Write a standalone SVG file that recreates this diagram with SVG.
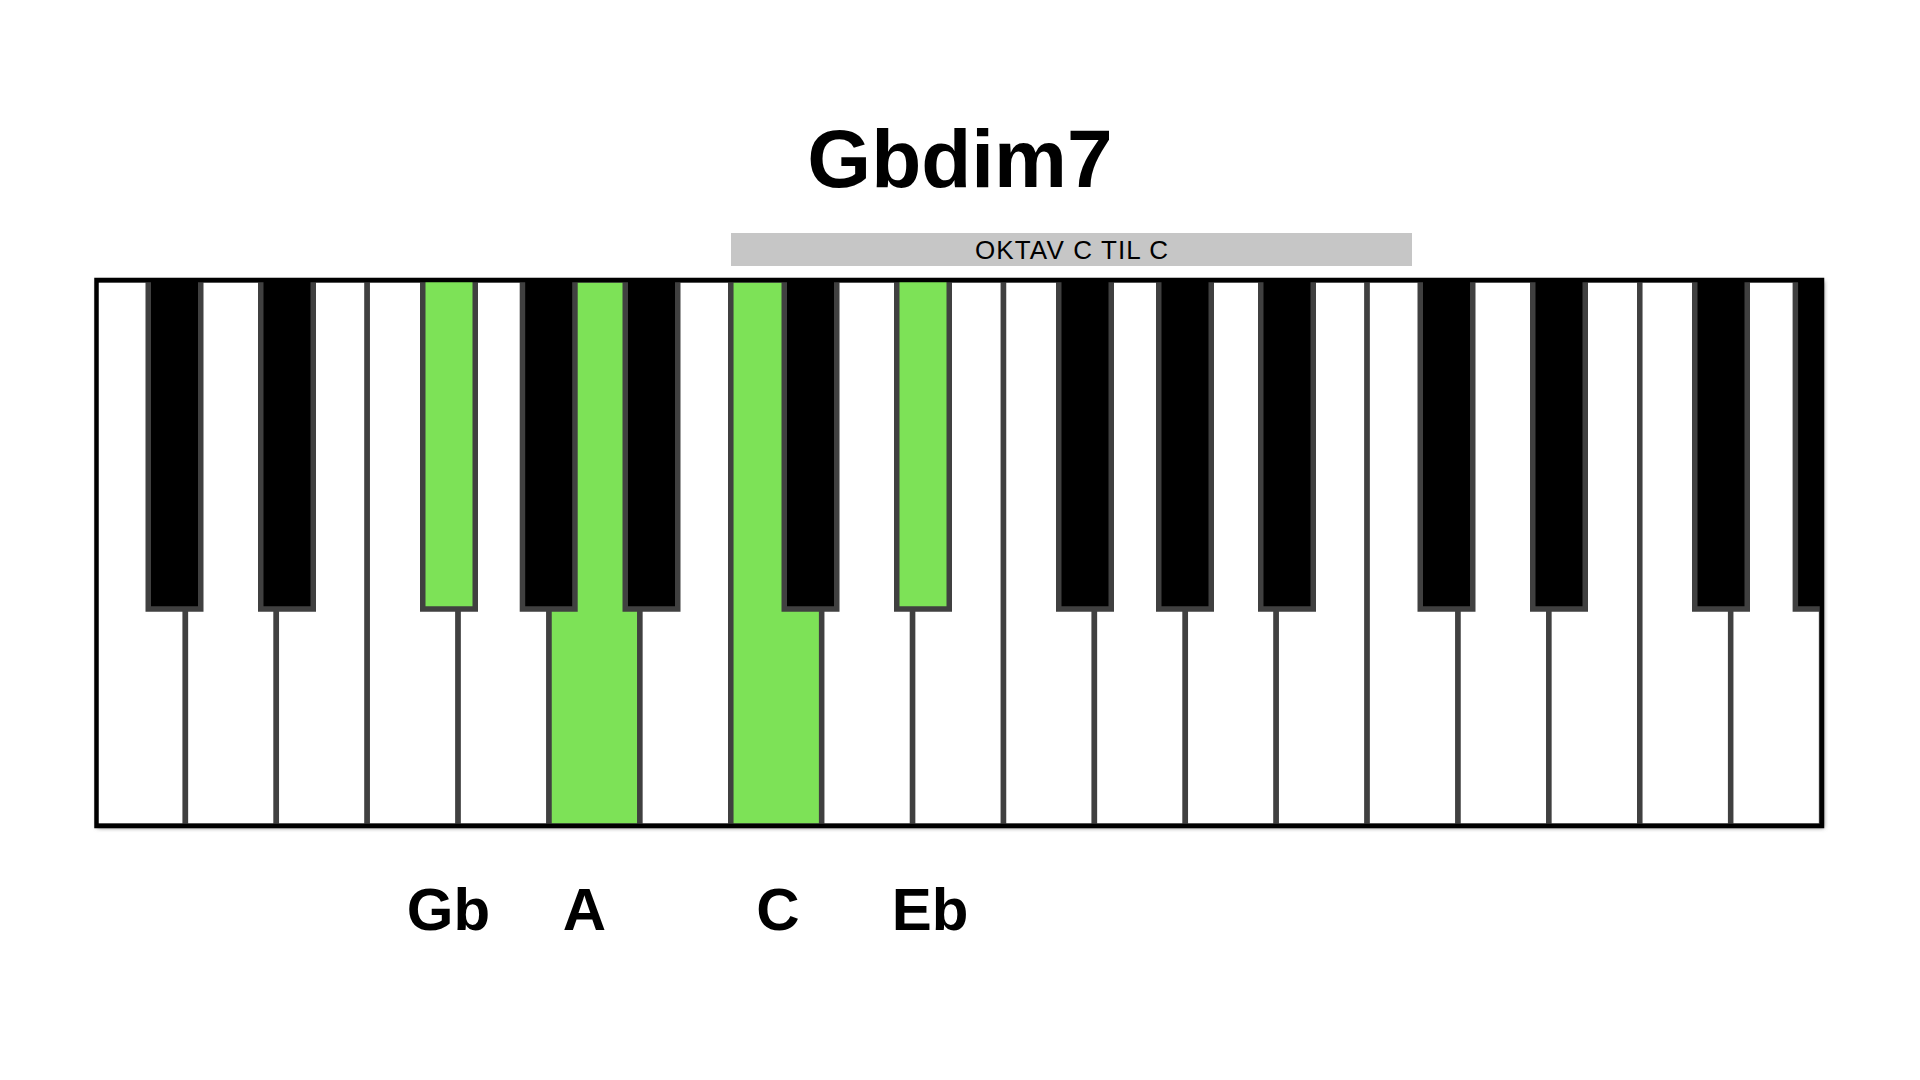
<svg xmlns="http://www.w3.org/2000/svg" width="1920" height="1080" viewBox="0 0 1920 1080">
  <style>
    .wk { fill: #ffffff; stroke: #404040; stroke-width: 5.5; }
    .bk { fill: #000000; stroke: #404040; stroke-width: 5.5; }
    .on { fill: #7de257; }
    .title { font-family: "Liberation Sans", Arial, sans-serif; font-weight: bold; font-size: 82px; fill: #000; text-anchor: middle; }
    .sub { font-family: "Liberation Sans", Arial, sans-serif; font-size: 26px; fill: #000; text-anchor: middle; }
    .note { font-family: "Liberation Sans", Arial, sans-serif; font-weight: bold; font-size: 60px; fill: #000; text-anchor: middle; }
  </style>
  <defs>
    <clipPath id="kbclip">
      <rect x="96.5" y="280" width="1725.5" height="546"/>
    </clipPath>
    <filter id="shadow" x="-5%" y="-5%" width="110%" height="110%">
      <feGaussianBlur stdDeviation="2"/>
    </filter>
  </defs>
  <rect width="1920" height="1080" fill="#ffffff"/>

  <g id="title"><text class="title" x="960" y="187">Gbdim7</text></g>

  <g id="octave-bar">
    <rect x="731" y="233" width="681" height="33" fill="#c6c6c6"/>
    <text class="sub" x="1071.5" y="258.5" textLength="193" lengthAdjust="spacing">OKTAV C TIL C</text>
  </g>

  <g id="keyboard">
    <rect x="97" y="281" width="1727" height="547" fill="#7a7a7a" filter="url(#shadow)"/>
    <g clip-path="url(#kbclip)">
      <g id="white-keys">
        <g id="w-C1"><rect class="wk" x="94.5" y="280" width="90.9" height="546"/></g>
        <g id="w-D1"><rect class="wk" x="185.4" y="280" width="90.9" height="546"/></g>
        <g id="w-E1"><rect class="wk" x="276.3" y="280" width="90.9" height="546"/></g>
        <g id="w-F1"><rect class="wk" x="367.2" y="280" width="90.9" height="546"/></g>
        <g id="w-G1"><rect class="wk" x="458.1" y="280" width="90.9" height="546"/></g>
        <g id="w-A1"><rect class="wk on" x="549" y="280" width="90.9" height="546"/></g>
        <g id="w-B1"><rect class="wk" x="639.9" y="280" width="90.9" height="546"/></g>
        <g id="w-C2"><rect class="wk on" x="730.8" y="280" width="90.9" height="546"/></g>
        <g id="w-D2"><rect class="wk" x="821.7" y="280" width="90.9" height="546"/></g>
        <g id="w-E2"><rect class="wk" x="912.6" y="280" width="90.9" height="546"/></g>
        <g id="w-F2"><rect class="wk" x="1003.5" y="280" width="90.9" height="546"/></g>
        <g id="w-G2"><rect class="wk" x="1094.4" y="280" width="90.9" height="546"/></g>
        <g id="w-A2"><rect class="wk" x="1185.3" y="280" width="90.9" height="546"/></g>
        <g id="w-B2"><rect class="wk" x="1276.2" y="280" width="90.9" height="546"/></g>
        <g id="w-C3"><rect class="wk" x="1367.1" y="280" width="90.9" height="546"/></g>
        <g id="w-D3"><rect class="wk" x="1458" y="280" width="90.9" height="546"/></g>
        <g id="w-E3"><rect class="wk" x="1548.9" y="280" width="90.9" height="546"/></g>
        <g id="w-F3"><rect class="wk" x="1639.8" y="280" width="90.9" height="546"/></g>
        <g id="w-G3"><rect class="wk" x="1730.7" y="280" width="90.9" height="546"/></g>
      </g>
      <g id="black-keys">
        <g id="b-Cs1"><rect class="bk" x="148.25" y="278" width="52.5" height="331"/></g>
        <g id="b-Ds1"><rect class="bk" x="260.75" y="278" width="52.5" height="331"/></g>
        <g id="b-Fs1"><rect class="bk on" x="422.75" y="278" width="52.5" height="331"/></g>
        <g id="b-Gs1"><rect class="bk" x="522.45" y="278" width="52.5" height="331"/></g>
        <g id="b-As1"><rect class="bk" x="625.25" y="278" width="52.5" height="331"/></g>
        <g id="b-Cs2"><rect class="bk" x="784.25" y="278" width="52.5" height="331"/></g>
        <g id="b-Ds2"><rect class="bk on" x="896.75" y="278" width="52.5" height="331"/></g>
        <g id="b-Fs2"><rect class="bk" x="1058.75" y="278" width="52.5" height="331"/></g>
        <g id="b-Gs2"><rect class="bk" x="1158.75" y="278" width="52.5" height="331"/></g>
        <g id="b-As2"><rect class="bk" x="1260.75" y="278" width="52.5" height="331"/></g>
        <g id="b-Cs3"><rect class="bk" x="1420.25" y="278" width="52.5" height="331"/></g>
        <g id="b-Ds3"><rect class="bk" x="1532.75" y="278" width="52.5" height="331"/></g>
        <g id="b-Fs3"><rect class="bk" x="1694.75" y="278" width="52.5" height="331"/></g>
        <g id="b-Gs3"><rect class="bk" x="1795.35" y="278" width="52.5" height="331"/></g>
      </g>
    </g>
    <rect x="96.5" y="280" width="1725.5" height="546" fill="none" stroke="#000000" stroke-width="4.5"/>
  </g>

  <g id="connectors"/>

  <g id="labels">
    <g id="label-Gb"><text class="note" x="448.5" y="930">Gb</text></g>
    <g id="label-A"><text class="note" x="584.5" y="930">A</text></g>
    <g id="label-C"><text class="note" x="778" y="930">C</text></g>
    <g id="label-Eb"><text class="note" x="930" y="930">Eb</text></g>
  </g>
</svg>
